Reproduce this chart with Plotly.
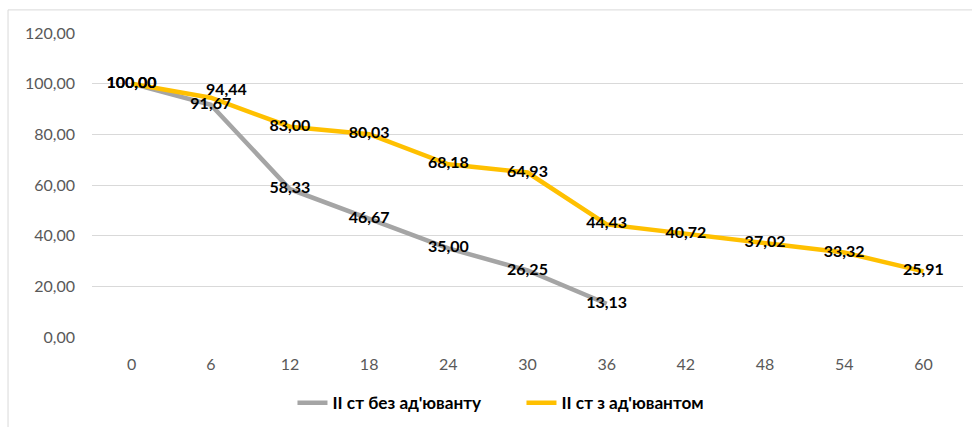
"""Survival line chart: stage II with vs without adjuvant therapy."""

import plotly.graph_objects as go

months = [0, 6, 12, 18, 24, 30, 36, 42, 48, 54, 60]
no_adjuvant = [100.00, 91.67, 58.33, 46.67, 35.00, 26.25, 13.13]
with_adjuvant = [100.00, 94.44, 83.00, 80.03, 68.18, 64.93, 44.43, 40.72, 37.02, 33.32, 25.91]

name_no = "II ст без ад'юванту"
name_with = "II ст з ад'ювантом"

GRAY = "#A5A5A5"
GOLD = "#FFC000"
FONT = "Lato"


def fmt(v):
    return f"{v:.2f}".replace(".", ",")


fig = go.Figure()

# lines first, labels in separate traces so every label sits above both lines
fig.add_trace(go.Scatter(
    x=months[:len(no_adjuvant)], y=no_adjuvant, name=name_no, mode="lines",
    line=dict(color=GRAY, width=4.5), hoverinfo="skip",
))
fig.add_trace(go.Scatter(
    x=months, y=with_adjuvant, name=name_with, mode="lines",
    line=dict(color=GOLD, width=4.5), hoverinfo="skip",
))

label_font = dict(family=FONT, size=16, color="#000000", weight="bold")
fig.add_trace(go.Scatter(
    x=months[:len(no_adjuvant)], y=no_adjuvant, mode="text", showlegend=False,
    text=[fmt(v) for v in no_adjuvant], textposition="middle center",
    textfont=label_font, hoverinfo="skip",
))
# the 6-month label of the gold series is nudged up/right (annotation below)
gold_text = [fmt(v) for v in with_adjuvant]
gold_text[1] = ""
fig.add_trace(go.Scatter(
    x=months, y=with_adjuvant, mode="text", showlegend=False,
    text=gold_text, textposition="middle center", textfont=label_font,
    hoverinfo="skip",
))
fig.add_annotation(
    x=months[1], y=with_adjuvant[1], text=fmt(with_adjuvant[1]),
    showarrow=False, xshift=16, yshift=9, font=label_font,
)

fig.update_layout(
    width=972,
    height=427,
    margin=dict(l=92, r=9, t=33, b=90),
    paper_bgcolor="white",
    plot_bgcolor="white",
    separators=",.",
    font=dict(family=FONT, size=16, color="#595959"),
    xaxis=dict(
        range=[-3, 63], tickvals=months, showgrid=False, showline=False,
        zeroline=False, ticks="", tickfont=dict(size=16, color="#595959"),
        ticklabelstandoff=16, fixedrange=True,
    ),
    yaxis=dict(
        range=[0, 120], dtick=20, tickformat=".2f", showgrid=True,
        gridcolor="#D9D9D9", gridwidth=1, zeroline=False, showline=False,
        ticks="", tickfont=dict(size=16, color="#595959"), ticklabelstandoff=16,
        fixedrange=True,
    ),
    legend=dict(
        orientation="h", xref="container", x=0.5365, xanchor="center",
        yref="container", y=0.056, yanchor="middle",
        font=dict(family=FONT, size=17.2, color="#000000", weight="bold"),
        entrywidth=184, entrywidthmode="pixels",
    ),
    shapes=[dict(
        type="rect", xref="paper", yref="paper",
        x0=-0.0964, x1=1.05, y0=-0.35, y1=1.076,
        line=dict(color="#D9D9D9", width=1), layer="below",
    )],
)

fig.write_html(
    "out.html",
    config={"displayModeBar": False},
    post_script="document.body.style.margin='0';",
)
